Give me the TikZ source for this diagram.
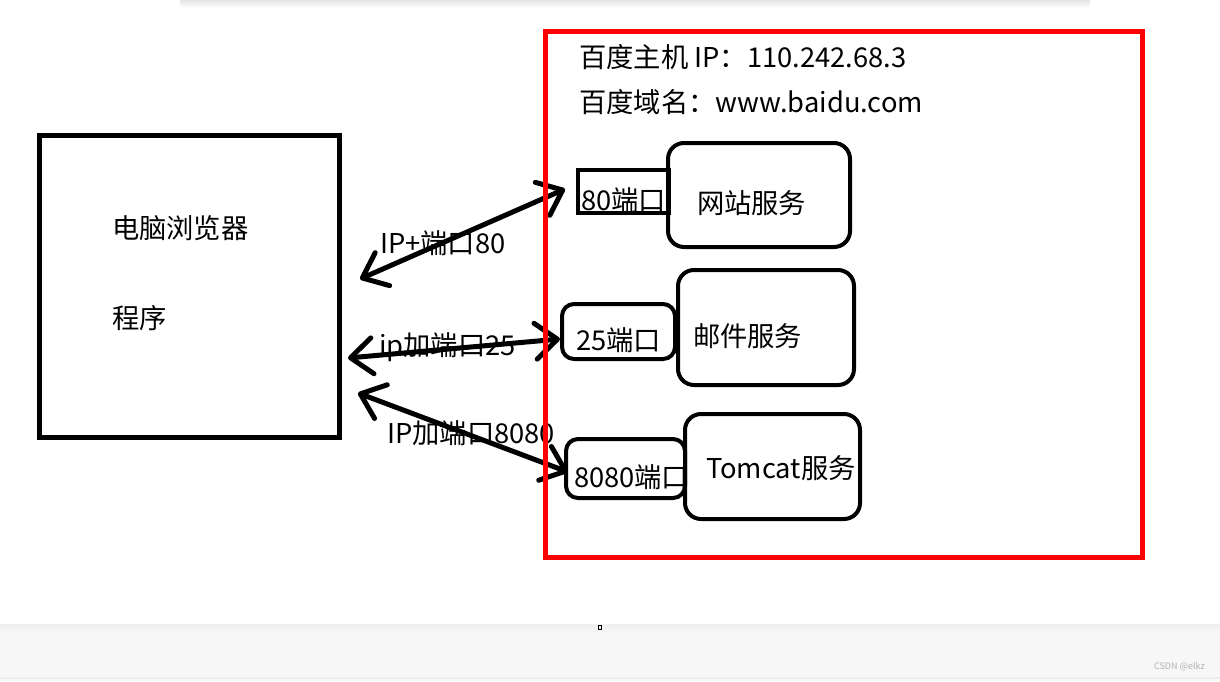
\documentclass[tikz,border=0pt]{standalone}
\usepackage{fontspec}
\setmainfont{Noto Sans CJK SC}
\usetikzlibrary{arrows.meta}
\definecolor{framered}{RGB}{255,0,0}
\definecolor{footbg}{RGB}{247,247,247}
\newcommand\boxtxt[3]{\makebox[#1][l]{\hspace*{#2}#3}}
\begin{document}
\begin{tikzpicture}[x=1pt,y=-1pt,
  bigfont/.style={font=\fontsize{27.3}{30}\selectfont},
  txt/.style={bigfont, inner sep=0pt, text height=24pt, text depth=3pt, anchor=west},
  portbox/.style={bigfont, draw, line width=4pt, inner sep=0pt, text height=37pt, text depth=0pt},
  svcbox/.style={bigfont, draw, line width=4pt, rounded corners=16pt, inner sep=0pt, text height=37pt, text depth=0pt},
  biarrow/.style={line width=5pt, line cap=round, line join=round,
    {Straight Barb[length=22pt,width=36pt,round]}-{Straight Barb[length=22pt,width=36pt,round]}}
]
\useasboundingbox (0,0) rectangle (1220,681);
\fill[white] (0,0) rectangle (1220,681);
% top shadow strip
\shade[top color=gray!20, bottom color=white] (180,0) rectangle (1090,8);
% footer
\fill[footbg] (0,625) rectangle (1220,681);
\shade[top color=gray!12, bottom color=footbg] (0,624) rectangle (1220,633);
\fill[gray!14] (0,677) rectangle (1220,679);
\fill[gray!6] (0,679) rectangle (1220,681);
\draw[line width=0.8pt] (598.5,625.5) rectangle (601.5,629.5);
\node[anchor=east, inner sep=0pt, font=\fontsize{9}{10}\selectfont, text=gray!60] (csdn) at (1205,667) {CSDN @elkz};

% browser box
\node[bigfont, draw, line width=5pt, minimum height=302pt, inner xsep=73pt, inner ysep=0pt,
  text width=154pt, align=left] (browser) at (189,286)
  {\rule{0pt}{23pt}电脑浏览器\\[60pt]程序\rule[-29pt]{0pt}{1pt}};

% header text
\node[txt] (hostip) at (579,56.5) {百度主机 IP：110.242.68.3};
\node[txt] (domain) at (579,102) {百度域名：www.baidu.com};

% service boxes
\node[svcbox, minimum height=104pt] (web) at (759,195) {\boxtxt{182pt}{29pt}{网站服务}};
\node[svcbox, minimum height=115pt] (mail) at (766,327.5) {\boxtxt{176pt}{15pt}{邮件服务}};
\node[svcbox, minimum height=105pt, text height=23pt] (tomcat) at (772.5,466.5) {\boxtxt{175pt}{21pt}{Tomcat服务}};

% port boxes
\node[portbox, minimum height=43pt] (p80) at (623.5,191.5) {\boxtxt{91pt}{3pt}{80端口}};
\node[portbox, rounded corners=12pt, minimum height=55pt] (p25) at (618.5,331.5) {\boxtxt{113pt}{14pt}{25端口}};
\node[portbox, rounded corners=12pt, minimum height=59pt] (p8080) at (625.5,468.5) {\boxtxt{119pt}{8pt}{8080端口}};

% connector labels
\node[txt] (l80) at (380,243) {IP+端口80};
\node[txt] (l25) at (379,345) {ip加端口25};
\node[txt] (l8080) at (387,433) {IP加端口8080};

% connector ends
\coordinate (b1) at (360,279);
\coordinate (e1) at (565,189);
\coordinate (b2) at (348,358);
\coordinate (e2) at (560,339);
\coordinate (b3) at (358,393);
\coordinate (e3) at (568,472);
\draw[biarrow] (b1) -- (e1);
\draw[biarrow] (b2) -- (e2);
\draw[biarrow] (b3) -- (e3);

% server frame
\draw[framered, line width=5pt] (545,31) rectangle (1142.5,557.5);
\end{tikzpicture}
\end{document}
